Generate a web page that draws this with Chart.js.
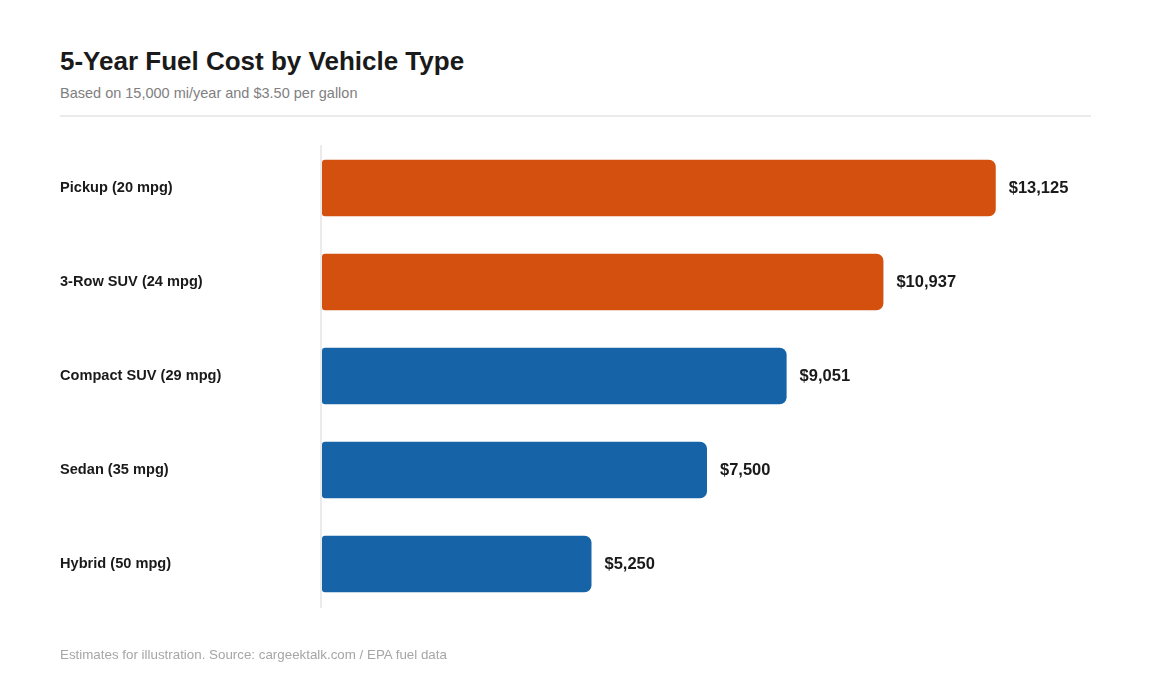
<!DOCTYPE html>
<html>
<head>
<meta charset="utf-8">
<script src="https://cdn.jsdelivr.net/npm/chart.js@4"></script>
<style>
  body { margin: 0; background: #fff; font-family: "Liberation Sans", Arial, sans-serif; }
  #wrap { position: relative; width: 1150px; height: 680px; }
  h1 { position: absolute; left: 60px; top: 46px; margin: 0; font-size: 26px; font-weight: bold; color: #1a1a1a; }
  .sub { position: absolute; left: 60px; top: 85px; font-size: 14.5px; color: #808080; }
  .rule { position: absolute; left: 60px; top: 115px; width: 1031px; height: 2px; background: #ebebeb; }
  .foot { position: absolute; left: 60px; top: 647px; font-size: 13.35px; color: #a6a6a6; }
  canvas { position: absolute; left: 0; top: 0; }
</style>
</head>
<body>
<div id="wrap">
  <h1>5-Year Fuel Cost by Vehicle Type</h1>
  <div class="sub">Based on 15,000 mi/year and $3.50 per gallon</div>
  <div class="rule"></div>
  <canvas id="myChart" width="1150" height="680"></canvas>
  <div class="foot">Estimates for illustration. Source: cargeektalk.com / EPA fuel data</div>
</div>
<script>
const vehicles = ['Pickup (20 mpg)', '3-Row SUV (24 mpg)', 'Compact SUV (29 mpg)', 'Sedan (35 mpg)', 'Hybrid (50 mpg)'];
const fuelCost = [13125, 10937, 9051, 7500, 5250];
const barColors = ['#d4500f', '#d4500f', '#1663a8', '#1663a8', '#1663a8'];
const axisMax = 15000;

// thin baseline on the left of the bars, a bit shorter than the plot area
const baseLine = {
    id: 'baseLine',
    beforeDatasetsDraw(chart) {
        const ctx = chart.ctx;
        const area = chart.chartArea;
        const x = chart.scales.x.getPixelForValue(0) - 1;
        ctx.save();
        ctx.strokeStyle = '#ebebeb';
        ctx.lineWidth = 2;
        ctx.beginPath();
        ctx.moveTo(x, area.top + 4);
        ctx.lineTo(x, area.bottom - 3);
        ctx.stroke();
        ctx.restore();
    }
};

// draws "$13,125" etc. just past the end of each bar
const valueLabels = {
    id: 'valueLabels',
    afterDatasetsDraw(chart) {
        const ctx = chart.ctx;
        const meta = chart.getDatasetMeta(0);
        ctx.save();
        ctx.font = 'bold 16.5px "Liberation Sans", Arial, sans-serif';
        ctx.fillStyle = '#1a1a1a';
        ctx.textBaseline = 'middle';
        ctx.textAlign = 'left';
        meta.data.forEach((bar, i) => {
            ctx.fillText('$' + fuelCost[i].toLocaleString('en-US'), bar.x + 13, bar.y);
        });
        ctx.restore();
    }
};

function renderChart() {
    const ctx = document.getElementById('myChart');

    new Chart(ctx, {
        type: 'bar',
        data: {
            labels: vehicles,
            datasets: [{
                data: fuelCost,
                backgroundColor: barColors,
                borderRadius: { topLeft: 3, bottomLeft: 3, topRight: 7, bottomRight: 7 },
                borderSkipped: false,
                categoryPercentage: 1,
                barPercentage: 0.6
            }]
        },
        options: {
            indexAxis: 'y',
            responsive: false,
            animation: false,
            layout: { padding: { left: 60, right: 58, top: 141, bottom: 69 } },
            plugins: {
                legend: { display: false },
                tooltip: { enabled: false }
            },
            scales: {
                x: {
                    display: false,
                    min: 0,
                    max: axisMax
                },
                y: {
                    grid: { display: false },
                    border: { display: false },
                    afterFit(scale) { scale.width = 262; },
                    ticks: {
                        crossAlign: 'far',
                        color: '#1a1a1a',
                        font: { family: '"Liberation Sans", Arial, sans-serif', size: 14.6, weight: 'bold' }
                    }
                }
            }
        },
        plugins: [baseLine, valueLabels]
    });
}

renderChart();
</script>
</body>
</html>
